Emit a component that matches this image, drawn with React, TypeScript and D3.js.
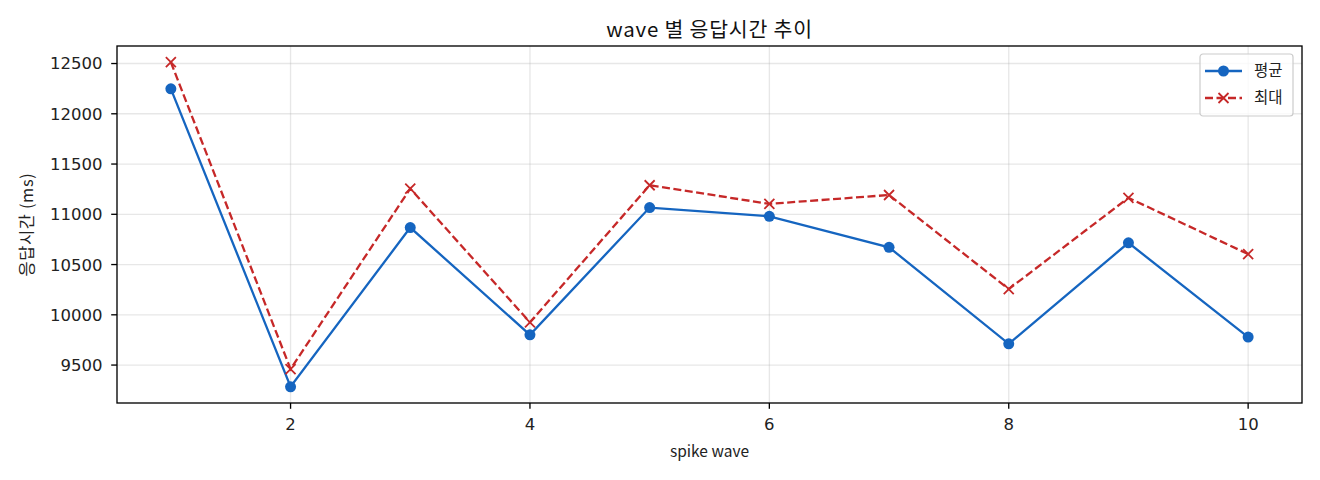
import React from "react";
import * as d3 from "d3";

// wave 번호
const waves = [1, 2, 3, 4, 5, 6, 7, 8, 9, 10];
// 평균 응답시간 (ms)
const avgMs = [12248, 9284, 10868, 9801, 11067, 10980, 10672, 9711, 10716, 9778];
// 최대 응답시간 (ms)
const maxMs = [12513, 9460, 11256, 9925, 11289, 11104, 11192, 10256, 11164, 10604];

const xTicks = [2, 4, 6, 8, 10];
const yTicks = [9500, 10000, 10500, 11000, 11500, 12000, 12500];

const W = 1320;
const H = 480;
const margin = { top: 46, right: 18, bottom: 77, left: 117 };
const FONT = "'Noto Sans CJK KR', 'Noto Sans', sans-serif";
const TICK_FONT = "'DejaVu Sans', 'Noto Sans CJK KR', sans-serif";

const BLUE = "#1565c0";
const RED = "#c62828";

const App: React.FC = () => {
  const x0 = margin.left;
  const x1 = W - margin.right;
  const y0 = H - margin.bottom;
  const y1 = margin.top;

  // matplotlib 기본 5% 여백
  const xPad = (d3.max(waves)! - d3.min(waves)!) * 0.05;
  const x = d3
    .scaleLinear()
    .domain([d3.min(waves)! - xPad, d3.max(waves)! + xPad])
    .range([x0, x1]);

  const all = avgMs.concat(maxMs);
  const yMin = d3.min(all)!;
  const yMax = d3.max(all)!;
  const yPad = (yMax - yMin) * 0.05;
  const y = d3
    .scaleLinear()
    .domain([yMin - yPad, yMax + yPad])
    .range([y0, y1]);

  const line = d3
    .line<number>()
    .x((_, i) => x(waves[i]))
    .y((d) => y(d));

  const cx = (x0 + x1) / 2;
  const cy = (y0 + y1) / 2;

  // legend
  const lgX = x1 - 102;
  const lgY = y1 + 8;

  return (
    <svg
      width={W}
      height={H}
      style={{ position: "absolute", left: 0, top: 0, background: "#fff" }}
      fontFamily={FONT}
    >
      <rect width={W} height={H} fill="#fff" />

      {/* grid */}
      <g stroke="#b0b0b0" strokeOpacity={0.3} strokeWidth={1.33}>
        {xTicks.map((t) => (
          <line key={"gx" + t} x1={x(t)} x2={x(t)} y1={y0} y2={y1} />
        ))}
        {yTicks.map((t) => (
          <line key={"gy" + t} x1={x0} x2={x1} y1={y(t)} y2={y(t)} />
        ))}
      </g>

      {/* series */}
      <path d={line(avgMs)!} fill="none" stroke={BLUE} strokeWidth={2.3} />
      <path
        d={line(maxMs)!}
        fill="none"
        stroke={RED}
        strokeWidth={2.3}
        strokeDasharray="8,3.5"
      />
      {avgMs.map((v, i) => (
        <circle key={"a" + i} cx={x(waves[i])} cy={y(v)} r={5.5} fill={BLUE} />
      ))}
      {maxMs.map((v, i) => {
        const px = x(waves[i]);
        const py = y(v);
        return (
          <path
            key={"m" + i}
            d={`M${px - 5},${py - 5}L${px + 5},${py + 5}M${px - 5},${py + 5}L${px + 5},${py - 5}`}
            stroke={RED}
            strokeWidth={1.8}
          />
        );
      })}

      {/* axes frame */}
      <rect
        x={x0}
        y={y1}
        width={x1 - x0}
        height={y0 - y1}
        fill="none"
        stroke="#000"
        strokeWidth={1.33}
      />

      {/* x ticks */}
      {xTicks.map((t) => (
        <g key={"xt" + t} transform={`translate(${x(t)},${y0})`}>
          <line y2={5.8} stroke="#000" strokeWidth={1.33} />
          <text y={26.5} textAnchor="middle" fontSize={16.5} fontFamily={TICK_FONT} fill="#222">
            {t}
          </text>
        </g>
      ))}
      {/* y ticks */}
      {yTicks.map((t) => (
        <g key={"yt" + t} transform={`translate(${x0},${y(t)})`}>
          <line x2={-5.8} stroke="#000" strokeWidth={1.33} />
          <text
            x={-14.5}
            dy="0.36em"
            textAnchor="end"
            fontSize={16.5}
            fontFamily={TICK_FONT}
            fill="#222"
          >
            {t}
          </text>
        </g>
      ))}

      {/* labels */}
      <text
        x={cx}
        y={37}
        textAnchor="middle"
        fontSize={20.5}
        letterSpacing={0.8}
        fill="#111"
      >
        wave 별 응답시간 추이
      </text>
      <text x={cx} y={457} textAnchor="middle" fontSize={15.5} fill="#222">
        spike wave
      </text>
      <text
        transform={`translate(33,${cy}) rotate(-90)`}
        textAnchor="middle"
        fontSize={16.5}
        letterSpacing={0.6}
        fill="#222"
      >
        응답시간 (ms)
      </text>

      {/* legend */}
      <g transform={`translate(${lgX},${lgY})`}>
        <rect
          width={93}
          height={62}
          rx={3}
          fill="#fff"
          fillOpacity={0.8}
          stroke="#cccccc"
          strokeWidth={1.2}
        />
        <line x1={5} x2={42} y1={17} y2={17} stroke={BLUE} strokeWidth={2.3} />
        <circle cx={23.5} cy={17} r={5.5} fill={BLUE} />
        <text x={54} y={17} dy="0.35em" fontSize={15.5} fill="#222">
          평균
        </text>
        <line
          x1={5}
          x2={42}
          y1={44}
          y2={44}
          stroke={RED}
          strokeWidth={2.3}
          strokeDasharray="8,3.5"
        />
        <path d="M18.5,39L28.5,49M18.5,49L28.5,39" stroke={RED} strokeWidth={1.8} />
        <text x={54} y={44} dy="0.35em" fontSize={15.5} fill="#222">
          최대
        </text>
      </g>
    </svg>
  );
};

export default App;
